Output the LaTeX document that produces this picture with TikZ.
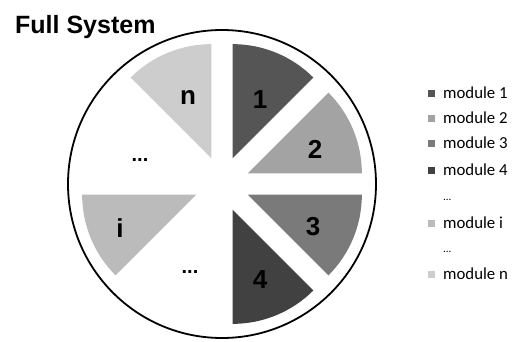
\documentclass[tikz,border=0pt]{standalone}
\usepackage{fontspec}
\setmainfont{Liberation Sans}
\newfontfamily\legfont{Carlito}
\usetikzlibrary{calc}
\definecolor{cone}{HTML}{555555}
\definecolor{ctwo}{HTML}{A3A3A3}
\definecolor{cthree}{HTML}{7A7A7A}
\definecolor{cfour}{HTML}{414141}
\definecolor{ci}{HTML}{BBBBBB}
\definecolor{cn}{HTML}{CDCDCD}
\tikzset{
  seclabel/.style={font=\fontsize{26}{26}\selectfont\bfseries, inner sep=0pt},
  dotslabel/.style={font=\fontsize{20}{20}\selectfont\bfseries, inner sep=0pt, anchor=base},
  legsq/.style={minimum size=7pt, inner sep=0pt},
  legtext/.style={font=\legfont\fontsize{16.8}{17}\selectfont, anchor=west, inner sep=0pt},
}
\newcommand{\mysector}[3]{% color, start angle, end angle
  \fill[#1] ($(C)+({(#2+#3)/2}:28)$) -- ++(#2:114) arc[start angle=#2, end angle=#3, radius=114] -- cycle;}
\begin{document}
\begin{tikzpicture}[x=1pt,y=1pt]
\useasboundingbox (0,0) rectangle (515,341);
\coordinate (C) at (222,157);
\node[font=\fontsize{25}{25}\selectfont\bfseries, anchor=base west, inner sep=0pt] (title) at (15,308) {Full System};
\draw[line width=1.8pt] (C) circle[radius=154];
\mysector{cone}{45}{90}
\mysector{ctwo}{0}{45}
\mysector{cthree}{-45}{0}
\mysector{cfour}{-90}{-45}
\mysector{ci}{180}{225}
\mysector{cn}{90}{135}
\node[seclabel] (l1) at (260,241) {1};
\node[seclabel] (l2) at (315,192) {2};
\node[seclabel] (l3) at (313,114) {3};
\node[seclabel] (l4) at (260,61) {4};
\node[seclabel] (li) at (120,113) {i};
\node[seclabel] (ln) at (188,244) {n};
\node[dotslabel] (d1) at (140,180) {...};
\node[dotslabel] (d2) at (190,68) {...};
% legend
\node[legsq, fill=cone] (s1) at (431.5,248) {};
\node[legtext] (t1) at (443,248) {module 1};
\node[legsq, fill=ctwo] (s2) at (431.5,223) {};
\node[legtext] (t2) at (443,223) {module 2};
\node[legsq, fill=cthree] (s3) at (431.5,198) {};
\node[legtext] (t3) at (443,198) {module 3};
\node[legsq, fill=cfour] (s4) at (431.5,171) {};
\node[legtext] (t4) at (443,171) {module 4};
\node[legtext, font=\legfont\fontsize{11}{11}\selectfont, anchor=base west] (t5) at (443,141) {...};
\node[legsq, fill=ci] (si) at (431.5,118) {};
\node[legtext] (ti) at (443,118) {module i};
\node[legtext, font=\legfont\fontsize{11}{11}\selectfont, anchor=base west] (t6) at (443,89) {...};
\node[legsq, fill=cn] (sn) at (431.5,67) {};
\node[legtext] (tn) at (443,67) {module n};
\end{tikzpicture}
\end{document}
